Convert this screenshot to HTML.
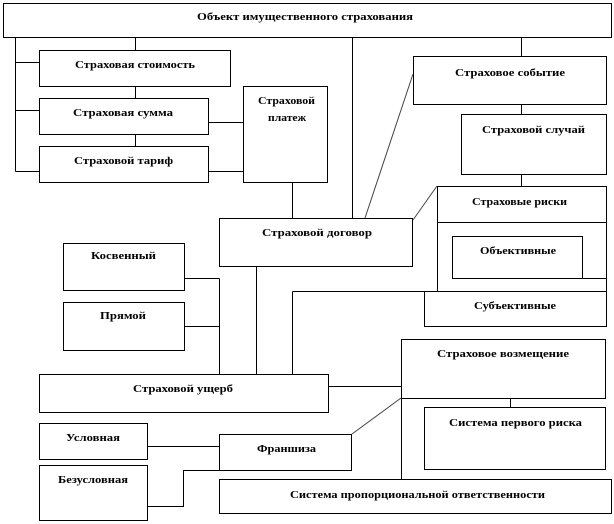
<!DOCTYPE html>
<html><head><meta charset="utf-8"><style>
html,body{margin:0;padding:0;background:#fff;}
svg{display:block;}
text{font-family:"Liberation Serif",serif;font-weight:bold;font-size:10.5px;fill:#000;}
</style></head><body>
<svg width="614" height="524" viewBox="0 0 614 524" xmlns="http://www.w3.org/2000/svg">
<g fill="#fff" stroke="#000" stroke-width="1">
<rect x="3.5" y="3.5" width="608" height="34"/>
<rect x="39.5" y="50.5" width="191" height="36"/>
<rect x="39.5" y="98.5" width="169" height="36"/>
<rect x="39.5" y="146.5" width="169" height="36"/>
<rect x="243.5" y="86.5" width="84" height="96"/>
<rect x="219.5" y="218.5" width="193" height="48"/>
<rect x="413.5" y="56.5" width="193" height="48"/>
<rect x="461.5" y="114.5" width="145" height="60"/>
<rect x="437.5" y="186.5" width="169" height="105"/>
<rect x="452.5" y="236.5" width="130" height="42"/>
<rect x="424.5" y="291.5" width="182" height="35"/>
<rect x="63.5" y="243.5" width="121" height="47"/>
<rect x="63.5" y="302.5" width="121" height="48"/>
<rect x="39.5" y="374.5" width="289" height="38"/>
<rect x="401.5" y="339.5" width="204" height="59"/>
<rect x="424.5" y="407.5" width="181" height="62"/>
<rect x="219.5" y="479.5" width="392" height="34"/>
<rect x="219.5" y="434.5" width="132" height="36"/>
<rect x="39.5" y="423.5" width="108" height="36"/>
<rect x="39.5" y="465.5" width="108" height="55"/>
</g>
<g fill="none" stroke="#000" stroke-width="1">
<path d="M437.5 222.5H606.5 M582.5 278.5H606.5"/>
<path d="M15.5 37.5V171.5 M15.5 62.5H39.5 M15.5 110.5H39.5 M15.5 171.5H39.5"/>
<path d="M135.5 37.5V50.5 M135.5 86.5V98.5 M135.5 134.5V146.5"/>
<path d="M208.5 122.5H243.5 M208.5 171.5H243.5 M292.5 182.5V218.5 M352.5 37.5V218.5"/>
<path d="M521.5 37.5V56.5 M521.5 104.5V114.5 M521.5 174.5V186.5"/>
<path d="M365 218L413 74 M413 220L437 186" stroke="#444"/>
<path d="M292.5 291.5H424.5 M292.5 291.5V374.5"/>
<path d="M184.5 278.5H219.5 M184.5 326.5H219.5 M219.5 278.5V374.5 M256.5 266.5V374.5"/>
<path d="M328.5 386.5H401.5 M510.5 398.5V407.5 M401.5 398.5V479.5"/>
<path d="M352 434L401 398" stroke="#444"/>
<path d="M147.5 446.5H219.5 M219.5 470.5H183.5V506.5H147.5"/>
</g>
<text x="197" y="20" textLength="216" lengthAdjust="spacingAndGlyphs">Объект имущественного страхования</text>
<text x="75" y="68" textLength="120" lengthAdjust="spacingAndGlyphs">Страховая  стоимость</text>
<text x="73" y="116" textLength="100" lengthAdjust="spacingAndGlyphs">Страховая  сумма</text>
<text x="74" y="164" textLength="99" lengthAdjust="spacingAndGlyphs">Страховой  тариф</text>
<text x="258" y="104" textLength="57" lengthAdjust="spacingAndGlyphs">Страховой</text>
<text x="268" y="121" textLength="38" lengthAdjust="spacingAndGlyphs">платеж</text>
<text x="262" y="236" textLength="110" lengthAdjust="spacingAndGlyphs">Страховой  договор</text>
<text x="455" y="76" textLength="110" lengthAdjust="spacingAndGlyphs">Страховое  событие</text>
<text x="482" y="133" textLength="103" lengthAdjust="spacingAndGlyphs">Страховой  случай</text>
<text x="472" y="205" textLength="95" lengthAdjust="spacingAndGlyphs">Страховые  риски</text>
<text x="480" y="254" textLength="76" lengthAdjust="spacingAndGlyphs">Объективные</text>
<text x="474" y="309" textLength="82" lengthAdjust="spacingAndGlyphs">Субъективные</text>
<text x="91" y="259" textLength="65" lengthAdjust="spacingAndGlyphs">Косвенный</text>
<text x="100" y="319" textLength="46" lengthAdjust="spacingAndGlyphs">Прямой</text>
<text x="133" y="392" textLength="100" lengthAdjust="spacingAndGlyphs">Страховой  ущерб</text>
<text x="437" y="357" textLength="132" lengthAdjust="spacingAndGlyphs">Страховое  возмещение</text>
<text x="449" y="426" textLength="133" lengthAdjust="spacingAndGlyphs">Система первого риска</text>
<text x="257" y="452" textLength="59" lengthAdjust="spacingAndGlyphs">Франшиза</text>
<text x="66" y="441" textLength="54" lengthAdjust="spacingAndGlyphs">Условная</text>
<text x="58" y="483" textLength="70" lengthAdjust="spacingAndGlyphs">Безусловная</text>
<text x="290" y="498" textLength="255" lengthAdjust="spacingAndGlyphs">Система пропорциональной ответственности</text>
</svg>
</body></html>
